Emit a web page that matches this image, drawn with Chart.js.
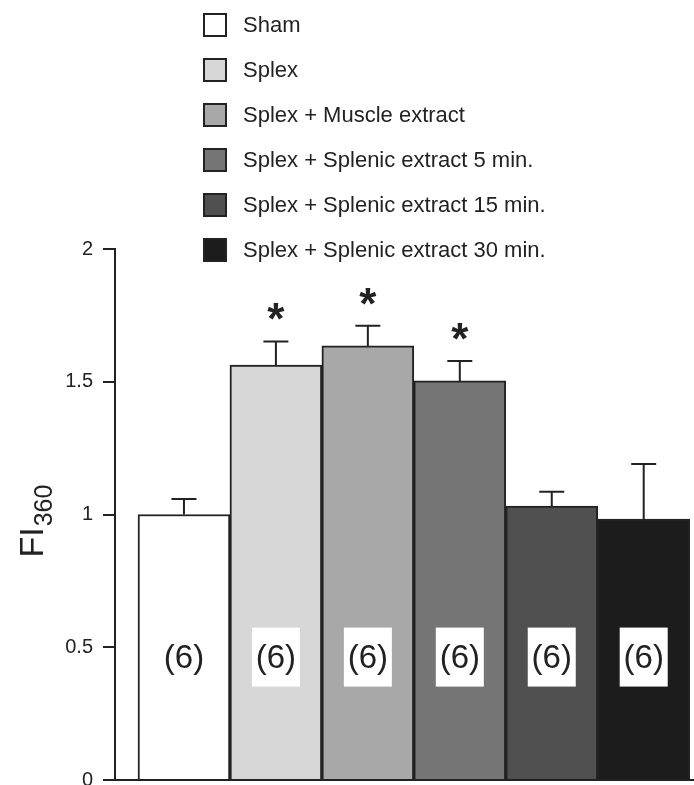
<!DOCTYPE html>
<html>
<head>
<meta charset="utf-8">
<script src="https://cdn.jsdelivr.net/npm/chart.js@4.4.1/dist/chart.umd.min.js"></script>
<style>
  html, body { margin: 0; padding: 0; background: #fff; }
  #wrap { width: 694px; height: 785px; position: relative; }
</style>
</head>
<body>
<div id="wrap"><canvas id="chartFI"></canvas></div>
<script>
// datos
const categories = ['Sham', 'Splex', 'Splex + Muscle extract', 'Splex + Splenic extract 5 min.',
                    'Splex + Splenic extract 15 min.', 'Splex + Splenic extract 30 min.'];
const meanValues = [1.00, 1.563, 1.635, 1.503, 1.032, 0.983];
const semValues = [0.058, 0.089, 0.076, 0.075, 0.054, 0.207];
const significant = [false, true, true, true, false, false];
const groupSizes = [6, 6, 6, 6, 6, 6];
const yTicks = [0, 0.5, 1, 1.5, 2];
const yTickLabels = ['0', '0.5', '1', '1.5', '2'];

const barColors = ['#ffffff', '#d7d7d7', '#a8a8a8', '#757575', '#505050', '#1c1c1c'];
const ink = '#222222';
const fontFam = '"Liberation Sans", Arial, sans-serif';
const nLabelAt = 0.463; // altura (en unidades de FI) de las etiquetas (n)

// leyenda, barras de error, asteriscos, (n) y titulo del eje Y
const extrasPlugin = {
    id: 'extras',
    afterDatasetsDraw(chart) {
        const ctx = chart.ctx;
        const y = chart.scales.y;
        const bars = chart.getDatasetMeta(0).data;
        ctx.save();
        bars.forEach((bar, i) => {
            const top = y.getPixelForValue(meanValues[i] + semValues[i]);
            ctx.strokeStyle = ink;
            ctx.lineWidth = 2;
            ctx.beginPath();
            ctx.moveTo(bar.x, bar.y);
            ctx.lineTo(bar.x, top);
            ctx.moveTo(bar.x - 12.5, top);
            ctx.lineTo(bar.x + 12.5, top);
            ctx.stroke();

            if (significant[i]) {
                ctx.fillStyle = ink;
                ctx.font = 'bold 44px ' + fontFam;
                ctx.textAlign = 'center';
                ctx.textBaseline = 'alphabetic';
                ctx.fillText('*', bar.x, top - 7);
            }

            // caja blanca con (n)
            const cy = y.getPixelForValue(nLabelAt);
            ctx.fillStyle = '#ffffff';
            ctx.fillRect(bar.x - 24, cy - 29.5, 48, 59);
            ctx.fillStyle = ink;
            ctx.font = '33px ' + fontFam;
            ctx.textAlign = 'center';
            ctx.textBaseline = 'middle';
            ctx.fillText('(' + groupSizes[i] + ')', bar.x, cy + 2);
        });
        ctx.restore();
    },
    afterDraw(chart) {
        const ctx = chart.ctx;
        const area = chart.chartArea;
        ctx.save();
        // leyenda
        categories.forEach((label, i) => {
            const cy = 25 + 45 * i;
            ctx.fillStyle = barColors[i];
            ctx.fillRect(204, cy - 11, 22, 22);
            ctx.strokeStyle = ink;
            ctx.lineWidth = 2;
            ctx.strokeRect(204, cy - 11, 22, 22);
            ctx.fillStyle = ink;
            ctx.font = '22px ' + fontFam;
            ctx.textAlign = 'left';
            ctx.textBaseline = 'middle';
            ctx.fillText(label, 243, cy + 1);
        });
        // titulo eje Y: FI con subindice 360
        const mid = (area.top + area.bottom) / 2;
        ctx.translate(43, mid + 43);
        ctx.rotate(-Math.PI / 2);
        ctx.fillStyle = ink;
        ctx.textAlign = 'left';
        ctx.textBaseline = 'alphabetic';
        ctx.font = '34px ' + fontFam;
        ctx.fillText('FI', 0, 0);
        const w = ctx.measureText('FI').width;
        ctx.font = '25px ' + fontFam;
        ctx.fillText('360', w + 1, 9);
        ctx.restore();
    }
};

const ctxFI = document.getElementById('chartFI').getContext('2d');
const fiChart = new Chart(ctxFI, {
    type: 'bar',
    data: {
        datasets: [{
            data: meanValues.map((v, i) => ({ x: i, y: v })),
            backgroundColor: barColors,
            borderColor: ink,
            borderWidth: 2,
            borderSkipped: 'start',
            barPercentage: 1,
            categoryPercentage: 1
        }]
    },
    options: {
        responsive: true,
        maintainAspectRatio: false,
        animation: false,
        layout: { padding: { top: 249, right: 0, left: 0, bottom: 0 } },
        plugins: {
            legend: { display: false },
            tooltip: { enabled: false }
        },
        scales: {
            x: {
                type: 'linear',
                offset: false,
                min: -0.75,
                max: 5.547,
                grid: { display: false, offset: false },
                ticks: { display: false },
                border: { display: true, color: ink, width: 2 },
                afterBuildTicks: s => { s.ticks = categories.map((c, i) => ({ value: i })); },
                afterFit: s => { s.height = 5; }
            },
            y: {
                min: 0,
                max: 2,
                grid: { drawOnChartArea: false, drawTicks: true, tickLength: 12, tickColor: ink, lineWidth: 2 },
                border: { display: true, color: ink, width: 2 },
                ticks: {
                    color: ink,
                    padding: 10,
                    font: { family: fontFam, size: 20 },
                    callback: (v, i) => yTickLabels[i]
                },
                afterBuildTicks: s => { s.ticks = yTicks.map(v => ({ value: v })); },
                afterFit: s => { s.width = 115; s.paddingTop = 0; s.paddingBottom = 0; }
            }
        }
    },
    plugins: [extrasPlugin]
});
</script>
</body>
</html>
